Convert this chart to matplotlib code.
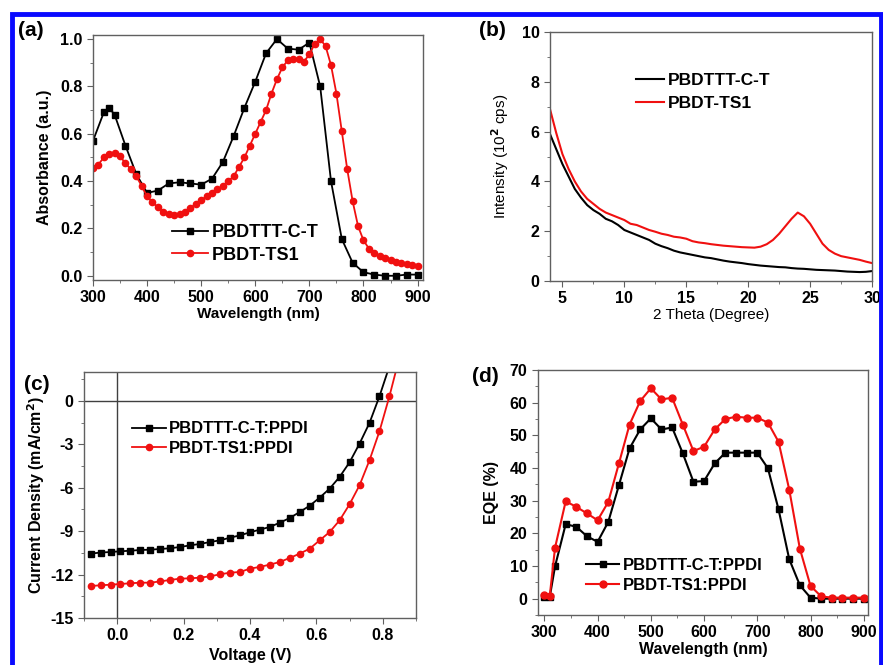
import matplotlib
matplotlib.use('Agg')
import matplotlib.pyplot as plt
from matplotlib.patches import Rectangle
from matplotlib.ticker import MultipleLocator, FormatStrFormatter

plt.rcParams['font.family'] = ['Liberation Sans', 'DejaVu Sans']
plt.rcParams['font.weight'] = 'bold'
plt.rcParams['axes.unicode_minus'] = False

# (a) absorbance
wl_a_black = [300, 320, 330, 340, 360, 380, 400, 420, 440, 460, 480, 500, 520, 540, 560, 580,
              600, 620, 640, 660, 680, 700, 720, 740, 760, 780, 800, 820, 840, 860, 880, 900]
abs_black = [0.57, 0.69, 0.71, 0.68, 0.55, 0.43, 0.35, 0.36, 0.39, 0.395, 0.39, 0.385, 0.41, 0.48,
             0.59, 0.71, 0.82, 0.94, 1.0, 0.96, 0.955, 0.985, 0.80, 0.40, 0.155, 0.055, 0.015,
             0.005, 0.0, 0.0, 0.005, 0.005]
wl_a_red = list(range(300, 901, 10))
abs_red = [0.455, 0.47, 0.50, 0.515, 0.52, 0.505, 0.475, 0.45, 0.42, 0.38, 0.335, 0.31, 0.29, 0.27,
           0.26, 0.255, 0.26, 0.27, 0.285, 0.305, 0.32, 0.335, 0.35, 0.365, 0.38, 0.40, 0.42, 0.46,
           0.50, 0.55, 0.60, 0.65, 0.70, 0.77, 0.83, 0.88, 0.91, 0.915, 0.915, 0.905, 0.935, 0.98,
           1.0, 0.97, 0.89, 0.77, 0.61, 0.45, 0.315, 0.21, 0.15, 0.115, 0.095, 0.082, 0.073, 0.066,
           0.06, 0.055, 0.05, 0.045, 0.04]

# (b) XRD
theta = [4.0 + 0.5 * i for i in range(53)]
xrd_black = [5.9, 5.3, 4.7, 4.2, 3.7, 3.35, 3.05, 2.85, 2.7, 2.5, 2.4, 2.25, 2.05, 1.95, 1.85, 1.75,
             1.65, 1.5, 1.4, 1.32, 1.22, 1.15, 1.1, 1.05, 1.0, 0.95, 0.92, 0.87, 0.82, 0.78, 0.75,
             0.72, 0.68, 0.65, 0.62, 0.6, 0.58, 0.56, 0.55, 0.52, 0.5, 0.49, 0.47, 0.45, 0.44, 0.43,
             0.42, 0.4, 0.38, 0.37, 0.36, 0.37, 0.4]
xrd_red = [6.9, 5.95, 5.1, 4.5, 4.0, 3.6, 3.3, 3.1, 2.9, 2.75, 2.65, 2.55, 2.45, 2.3, 2.25, 2.15,
           2.05, 1.98, 1.9, 1.85, 1.78, 1.75, 1.7, 1.6, 1.55, 1.52, 1.48, 1.45, 1.42, 1.4, 1.38,
           1.36, 1.35, 1.34, 1.38, 1.48, 1.65, 1.9, 2.2, 2.5, 2.75, 2.6, 2.3, 1.9, 1.5, 1.25, 1.1,
           1.0, 0.95, 0.9, 0.85, 0.78, 0.72]

# (c) J-V
volt_black = [-0.08, -0.05, -0.02, 0.01, 0.04, 0.07, 0.10, 0.13, 0.16, 0.19, 0.22, 0.25, 0.28, 0.31,
              0.34, 0.37, 0.40, 0.43, 0.46, 0.49, 0.52, 0.55, 0.58, 0.61, 0.64, 0.67, 0.70, 0.73,
              0.76, 0.79, 0.82]
jv_black = [-10.55, -10.48, -10.44, -10.39, -10.35, -10.30, -10.28, -10.23, -10.18, -10.09, -9.98,
            -9.88, -9.75, -9.63, -9.45, -9.29, -9.08, -8.89, -8.71, -8.41, -8.09, -7.67, -7.24,
            -6.68, -6.06, -5.25, -4.24, -2.95, -1.52, 0.32, 2.4]
volt_red = volt_black + [0.85]
jv_red = [-12.79, -12.74, -12.70, -12.65, -12.60, -12.56, -12.56, -12.47, -12.37, -12.28, -12.26,
          -12.21, -12.12, -11.98, -11.87, -11.82, -11.59, -11.47, -11.31, -11.13, -10.85, -10.55,
          -10.21, -9.63, -9.06, -8.25, -7.14, -5.83, -4.10, -2.10, 0.32, 3.0]

# (d) EQE
wl_d = [300, 310, 320, 340, 360, 380, 400, 420, 440, 460, 480, 500, 520, 540, 560, 580, 600, 620,
        640, 660, 680, 700, 720, 740, 760, 780, 800, 820, 840, 860, 880, 900]
eqe_black = [0.5, 0.5, 9.9, 22.8, 22.0, 19.1, 17.4, 23.5, 34.7, 46.0, 51.8, 55.2, 51.8, 52.4, 44.5,
             35.8, 36.0, 41.4, 44.7, 44.7, 44.7, 44.7, 39.9, 27.3, 12.1, 4.1, 0.3, 0.0, 0.0, 0.0,
             0.0, 0.0]
eqe_red = [1.0, 0.7, 15.6, 29.8, 28.1, 26.1, 24.0, 29.6, 41.4, 53.3, 60.5, 64.4, 61.0, 61.5, 53.3,
           45.2, 46.5, 51.8, 55.0, 55.7, 55.4, 55.4, 53.9, 48.0, 33.4, 15.3, 3.9, 0.7, 0.3, 0.3,
           0.3, 0.3]

RED = '#f01010'
SPINE = '#606060'


def style_axis(ax):
    for s in ax.spines.values():
        s.set_color(SPINE)
        s.set_linewidth(1.0)
    ax.tick_params(which='both', direction='out', color=SPINE, labelsize=11.5)
    ax.tick_params(which='major', length=4)
    ax.tick_params(which='minor', length=2.5)
    for lab in ax.get_xticklabels() + ax.get_yticklabels():
        lab.set_fontweight('bold')


fig = plt.figure(figsize=(8.83, 6.65), dpi=100)

# blue frame round the whole figure
fig.patches.append(Rectangle((12 / 883, -0.1), 869 / 883, 1.1 - 14 / 665, transform=fig.transFigure,
                             fill=False, edgecolor='#0a0aff', linewidth=3.5, zorder=0))

# (a)
ax = fig.add_axes([0.1053, 0.5789, 0.3737, 0.3684])
ax.plot(wl_a_black, abs_black, color='black', marker='s', markersize=5, lw=1.3, label='PBDTTT-C-T')
ax.plot(wl_a_red, abs_red, color=RED, marker='o', markersize=4.5, lw=1.3, label='PBDT-TS1')
ax.set_xlim(300, 910)
ax.set_ylim(-0.018, 1.017)
ax.xaxis.set_major_locator(MultipleLocator(100))
ax.xaxis.set_minor_locator(MultipleLocator(50))
ax.yaxis.set_major_locator(MultipleLocator(0.2))
ax.yaxis.set_minor_locator(MultipleLocator(0.1))
ax.yaxis.set_major_formatter(FormatStrFormatter('%.1f'))
ax.set_xlabel('Wavelength (nm)', fontsize=11, fontweight='bold', labelpad=1)
ax.set_ylabel('Absorbance (a.u.)', fontsize=11.5, fontweight='bold', labelpad=6)
style_axis(ax)
ax.legend(loc='lower left', bbox_to_anchor=(0.19, 0.0), frameon=False, handlelength=2.0,
          handletextpad=0.2, labelspacing=0.3, prop={'weight': 'bold', 'size': 13})
fig.text(18 / 883, 1 - 30 / 665, '(a)', fontsize=15, fontweight='bold', va='center')

# (b)
ax = fig.add_axes([0.6229, 0.5774, 0.3647, 0.3744])
ax.plot(theta, xrd_black, color='black', lw=1.5, label='PBDTTT-C-T')
ax.plot(theta, xrd_red, color=RED, lw=1.5, label='PBDT-TS1')
ax.set_xlim(4, 30)
ax.set_ylim(0, 10)
ax.xaxis.set_major_locator(MultipleLocator(5))
ax.xaxis.set_minor_locator(MultipleLocator(2.5))
ax.yaxis.set_major_locator(MultipleLocator(2))
ax.yaxis.set_minor_locator(MultipleLocator(1))
ax.set_xlabel('2 Theta (Degree)', fontsize=11, fontweight='normal', labelpad=1)
ax.set_ylabel('Intensity (10$^2$ cps)', fontsize=11, fontweight='normal', labelpad=8)
style_axis(ax)
ax.legend(loc='upper left', bbox_to_anchor=(0.22, 0.9), frameon=False, handlelength=1.6,
          handletextpad=0.2, labelspacing=0.45, prop={'weight': 'bold', 'size': 12.5})
fig.text(479 / 883, 1 - 30 / 665, '(b)', fontsize=15, fontweight='bold', va='center')

# (c)
ax = fig.add_axes([0.0951, 0.0707, 0.3760, 0.3699])
ax.axhline(0, color='#404040', lw=1.0, zorder=1)
ax.axvline(0, color='#404040', lw=1.0, zorder=1)
ax.plot(volt_black, jv_black, color='black', marker='s', markersize=5, lw=1.3, label='PBDTTT-C-T:PPDI')
ax.plot(volt_red, jv_red, color=RED, marker='o', markersize=4.5, lw=1.3, label='PBDT-TS1:PPDI')
ax.set_xlim(-0.1, 0.9)
ax.set_ylim(-15, 2)
ax.xaxis.set_major_locator(MultipleLocator(0.2))
ax.xaxis.set_minor_locator(MultipleLocator(0.1))
ax.yaxis.set_major_locator(MultipleLocator(3))
ax.yaxis.set_minor_locator(MultipleLocator(1.5))
ax.xaxis.set_major_formatter(FormatStrFormatter('%.1f'))
ax.set_xlabel('Voltage (V)', fontsize=11.5, fontweight='bold', labelpad=3)
ax.set_ylabel('Current Density (mA/cm$^\\mathbf{2}$)', fontsize=11.5, fontweight='bold', labelpad=2)
style_axis(ax)
ax.legend(loc='upper left', bbox_to_anchor=(0.1, 0.86), frameon=False, handlelength=2.0,
          handletextpad=0.2, labelspacing=0.25, prop={'weight': 'bold', 'size': 12})
fig.text(24 / 883, 1 - 384 / 665, '(c)', fontsize=15, fontweight='bold', va='center')

# (d)
ax = fig.add_axes([0.6093, 0.0752, 0.3737, 0.3684])
ax.plot(wl_d, eqe_black, color='black', marker='s', markersize=5, lw=1.5, label='PBDTTT-C-T:PPDI')
ax.plot(wl_d, eqe_red, color=RED, marker='o', markersize=5, lw=1.5, label='PBDT-TS1:PPDI')
ax.set_xlim(288, 908)
ax.set_ylim(-5, 70)
ax.xaxis.set_major_locator(MultipleLocator(100))
ax.xaxis.set_minor_locator(MultipleLocator(50))
ax.yaxis.set_major_locator(MultipleLocator(10))
ax.yaxis.set_minor_locator(MultipleLocator(5))
ax.set_xlabel('Wavelength (nm)', fontsize=11.5, fontweight='bold', labelpad=1)
ax.set_ylabel('EQE (%)', fontsize=11.5, fontweight='bold', labelpad=8)
style_axis(ax)
ax.legend(loc='lower left', bbox_to_anchor=(0.1, 0.03), frameon=False, handlelength=2.0,
          handletextpad=0.2, labelspacing=0.3, prop={'weight': 'bold', 'size': 12})
fig.text(472 / 883, 1 - 376 / 665, '(d)', fontsize=15, fontweight='bold', va='center')

fig.savefig('out.png', dpi=100)
